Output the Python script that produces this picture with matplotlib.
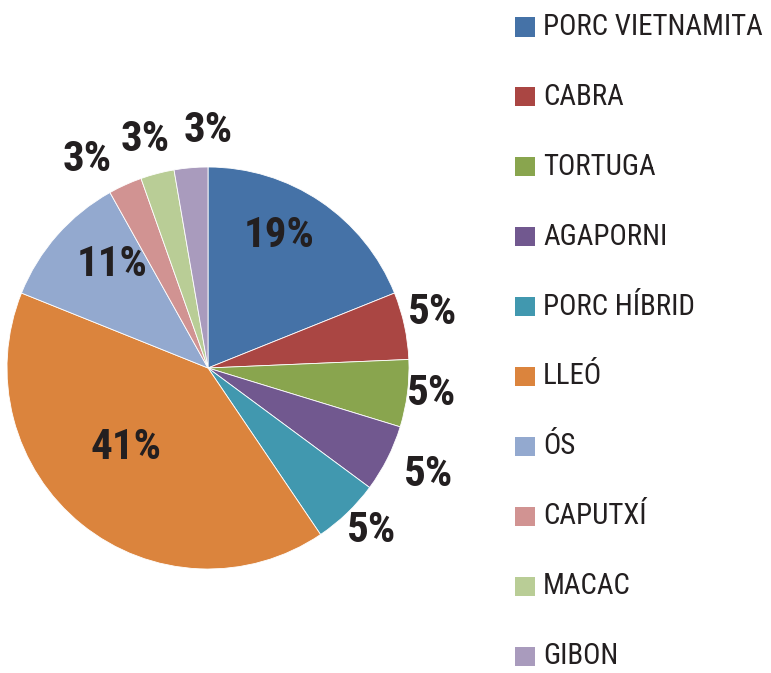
import matplotlib
matplotlib.use("Agg")
import matplotlib.pyplot as plt
import numpy as np
from matplotlib.patches import Rectangle
from matplotlib import font_manager

categories = ["PORC VIETNAMITA", "CABRA", "TORTUGA", "AGAPORNI", "PORC HÍBRID",
              "LLEÓ", "ÓS", "CAPUTXÍ", "MACAC", "GIBON"]
values = [18.9, 5.4, 5.4, 5.4, 5.4, 40.5, 10.8, 2.7, 2.7, 2.7]
colors = ["#4572A7", "#AA4643", "#89A54E", "#71588F", "#4198AF",
          "#DB843D", "#93A9CF", "#D19392", "#B9CD96", "#A99BBD"]
label_radius = [0.75, 1.15, 1.12, 1.22, 1.15, 0.57, 0.70, 1.20, 1.18, 1.18]
label_angle_shift = [5.7, 1.8, 0.9, 0.9, 1.4, -7.1, -5.9, 5.7, 0.8, -5.0]

names = {f.name for f in font_manager.fontManager.ttflist}
cond = [n for n in ["Roboto Condensed", "Open Sans Condensed", "Liberation Sans Narrow",
                    "DejaVu Sans Condensed"] if n in names]
fam = cond[:1] + ["Roboto", "DejaVu Sans"]
condensed = bool(cond)

W, H = 771, 673
fig = plt.figure(figsize=(W / 100, H / 100), dpi=100)
fig.patch.set_facecolor("white")

cx, cy, r = 208, 368, 201
ax = fig.add_axes([(cx - r) / W, (H - cy - r) / H, 2 * r / W, 2 * r / H])
wedges, _ = ax.pie(values, colors=colors, startangle=90, counterclock=False,
                   radius=1, wedgeprops=dict(edgecolor="white", linewidth=0.6))
ax.set_xlim(-1, 1)
ax.set_ylim(-1, 1)
ax.set_aspect("equal")
ax.axis("off")

for w, v, rr, da in zip(wedges, values, label_radius, label_angle_shift):
    ang = np.deg2rad((w.theta1 + w.theta2) / 2 + da)
    ax.text(rr * np.cos(ang), rr * np.sin(ang), f"{int(v + 0.5)}%",
            ha="center", va="center", fontsize=31 if condensed else 28,
            fontweight="bold", color="#231F20", family=fam, clip_on=False)

row0, step = 27, 69.9
fs = 20.8 if condensed else 18.5
for i, (lab, c) in enumerate(zip(categories, colors)):
    y = row0 + i * step
    fig.add_artist(Rectangle((515 / W, (H - y - 9.5) / H), 20 / W, 19 / H,
                             transform=fig.transFigure, facecolor=c, edgecolor="none"))
    fig.text(543 / W, (H - y) / H, lab, ha="left", va="center", fontsize=fs,
             color="#231F20", family=fam)

fig.savefig("out.png", dpi=100, facecolor="white")
